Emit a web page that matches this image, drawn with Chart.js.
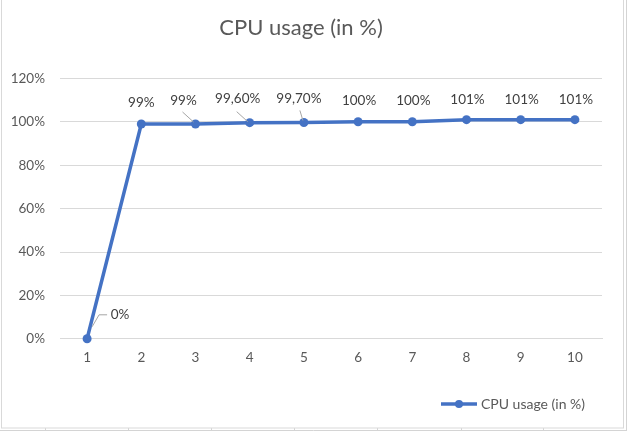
<!DOCTYPE html>
<html>
<head>
<meta charset="utf-8">
<script src="https://cdn.jsdelivr.net/npm/chart.js@4.4.0/dist/chart.umd.min.js"></script>
<style>
  html, body { margin: 0; padding: 0; background: #fff; }
  #wrap { width: 627px; height: 431px; position: relative; }
</style>
</head>
<body>
<div id="wrap"><canvas id="cpu" width="627" height="431"></canvas></div>
<script>
// chart data
const runs = ['1', '2', '3', '4', '5', '6', '7', '8', '9', '10'];
const cpuUsage = [0, 99, 99, 99.6, 99.7, 100, 100, 101, 101, 101];
const cpuLabels = ['0%', '99%', '99%', '99,60%', '99,70%', '100%', '100%', '101%', '101%', '101%'];
const yTicks = [0, 20, 40, 60, 80, 100, 120];

const blue = '#4472C4';
const grey = '#595959';
const fontFamily = 'Lato, "Noto Sans", sans-serif';

// legend symbol: line with a dot in the middle, like excel
const legendIcon = document.createElement('canvas');
legendIcon.width = 38;
legendIcon.height = 10;
(() => {
    const c = legendIcon.getContext('2d');
    c.strokeStyle = blue;
    c.lineWidth = 3.5;
    c.beginPath();
    c.moveTo(1, 5);
    c.lineTo(37, 5);
    c.stroke();
    c.fillStyle = blue;
    c.beginPath();
    c.arc(19, 5, 4, 0, Math.PI * 2);
    c.fill();
})();

// sheet background + chart border
const frame = {
    id: 'frame',
    beforeDraw(chart) {
        const ctx = chart.ctx;
        ctx.save();
        ctx.fillStyle = '#fff';
        ctx.fillRect(0, 0, chart.width, chart.height);
        ctx.strokeStyle = '#d4d4d4';
        ctx.lineWidth = 1;
        // cell lines of the sheet behind
        ctx.beginPath();
        ctx.moveTo(0, 430.5); ctx.lineTo(627, 430.5);
        ctx.moveTo(626.5, 0); ctx.lineTo(626.5, 431);
        [45, 128, 211, 294, 377, 461, 543].forEach(x => {
            ctx.moveTo(x + 0.5, 428); ctx.lineTo(x + 0.5, 431);
        });
        ctx.stroke();
        // chart border
        ctx.strokeStyle = '#d9d9d9';
        ctx.strokeRect(1.5, -1, 622, 429);
        ctx.restore();
    }
};

// data labels with leader lines
const pointLabels = {
    id: 'pointLabels',
    afterDatasetsDraw(chart, args, opts) {
        const ctx = chart.ctx;
        const meta = chart.getDatasetMeta(0);
        ctx.save();
        ctx.font = '13.5px ' + fontFamily;
        ctx.fillStyle = '#404040';
        ctx.textAlign = 'center';
        ctx.textBaseline = 'middle';
        meta.data.forEach((pt, i) => {
            const [dx, dy] = opts.offsets[i] || [0, -21];
            const tx = pt.x + dx, ty = pt.y + dy;
            const leader = opts.leaders[i];
            if (leader) {
                ctx.strokeStyle = '#a6a6a6';
                ctx.lineWidth = 1;
                ctx.beginPath();
                leader.forEach(([lx, ly], k) => {
                    if (k === 0) ctx.moveTo(pt.x + lx, pt.y + ly);
                    else ctx.lineTo(pt.x + lx, pt.y + ly);
                });
                ctx.stroke();
            }
            ctx.fillText(cpuLabels[i], tx, ty);
        });
        ctx.restore();
    }
};

const cpuCtx = document.getElementById('cpu').getContext('2d');
const cpuChart = new Chart(cpuCtx, {
    type: 'line',
    data: {
        labels: runs,
        datasets: [{
            label: 'CPU usage (in %)',
            data: cpuUsage,
            borderColor: blue,
            backgroundColor: blue,
            borderWidth: 3.5,
            pointRadius: 4.5,
            pointHoverRadius: 4.5,
            pointBackgroundColor: blue,
            pointBorderWidth: 0,
            tension: 0,
            clip: false
        }]
    },
    options: {
        responsive: false,
        animation: false,
        events: [],
        layout: {
            padding: { left: 0, right: 25, top: 0, bottom: 10 }
        },
        scales: {
            x: {
                offset: true,
                afterFit: (scale) => { scale.height = scale.height + 3; },
                grid: { display: false, drawTicks: false },
                border: { display: true, color: '#d9d9d9', width: 1 },
                ticks: { color: grey, font: { size: 13.5, family: fontFamily }, padding: 11 }
            },
            y: {
                min: 0,
                max: 120,
                afterFit: (scale) => { scale.width = 60; },
                afterBuildTicks: (scale) => { scale.ticks = yTicks.map(v => ({ value: v })); },
                grid: { color: '#d9d9d9', drawTicks: false },
                border: { display: false },
                ticks: {
                    color: grey,
                    font: { size: 13.5, family: fontFamily },
                    padding: 15,
                    callback: (v) => v + '%'
                }
            }
        },
        plugins: {
            title: {
                display: true,
                text: 'CPU usage (in %)',
                color: grey,
                font: { size: 22, weight: 'normal', family: fontFamily },
                padding: { top: 15, bottom: 37 }
            },
            legend: {
                position: 'bottom',
                align: 'end',
                labels: {
                    usePointStyle: true,
                    pointStyle: legendIcon,
                    pointStyleWidth: 30,
                    color: grey,
                    font: { size: 14, family: fontFamily },
                    padding: 17
                }
            },
            tooltip: { enabled: false },
            pointLabels: {
                offsets: [[33, -24], [0, -21], [-12, -23], [-12, -24], [-5, -24], [1, -21], [1, -21], [1, -20], [1, -20], [1, -20]],
                leaders: [
                    [[5, -12], [12, -24], [20, -24]],
                    null,
                    [[-13, -12], [-2, -2]],
                    [[-13, -11], [-2, -1]],
                    [[-4, -12], [-1, -2]]
                ]
            }
        }
    },
    plugins: [frame, pointLabels]
});
</script>
</body>
</html>
